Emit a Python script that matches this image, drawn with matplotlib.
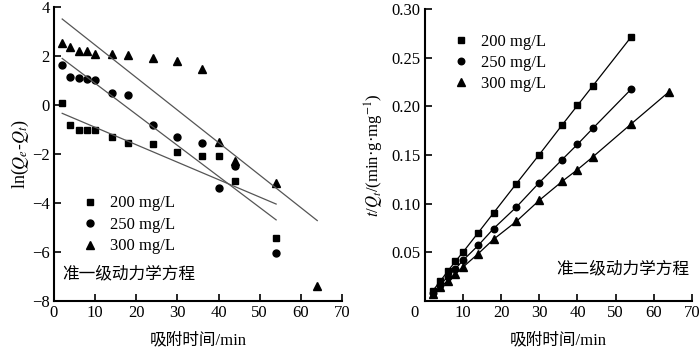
import numpy as np
import matplotlib
matplotlib.use("Agg")
import matplotlib.pyplot as plt
import matplotlib.transforms as mtrans

plt.rcParams['font.family'] = ['Liberation Serif', 'Noto Sans CJK SC', 'DejaVu Sans']
plt.rcParams['mathtext.fontset'] = 'stix'

# adsorption time (min)
t = np.array([2, 4, 6, 8, 10, 14, 18, 24, 30, 36, 40, 44, 54, 64])
labels = ['200 mg/L', '250 mg/L', '300 mg/L']

# pseudo-first-order: ln(Qe-Qt)
ln_200 = [0.09, -0.82, -1.02, -1.02, -1.02, -1.29, -1.56, -1.6, -1.9, -2.1, -2.1, -3.1, -5.42]
ln_250 = [1.63, 1.16, 1.12, 1.05, 1.02, 0.48, 0.41, -0.82, -1.32, -1.54, -3.4, -2.48, -6.03]
ln_300 = [2.52, 2.38, 2.2, 2.2, 2.1, 2.07, 2.04, 1.93, 1.81, 1.46, -1.5, -2.3, -3.2, -7.37]
# fitted lines (slope, intercept, x range)
fit1 = [(-0.0712, -0.198, 2, 54), (-0.1267, 2.153, 2, 54), (-0.1327, 3.775, 2, 64)]

# pseudo-second-order: t/Qt
tq_200 = [0.0102, 0.0202, 0.0308, 0.0407, 0.0503, 0.0703, 0.0905, 0.1207, 0.1505, 0.181, 0.201, 0.221, 0.271]
tq_250 = [0.0085, 0.0165, 0.025, 0.033, 0.0418, 0.0572, 0.0744, 0.0966, 0.1217, 0.1454, 0.161, 0.1773, 0.2174]
tq_300 = [0.007, 0.014, 0.021, 0.028, 0.0349, 0.0487, 0.0634, 0.0819, 0.1035, 0.123, 0.135, 0.148, 0.1817, 0.215]

markers = ['s', 'o', '^']
msizes = [4.5, 5, 5.5]

fig = plt.figure(figsize=(7, 3.5), dpi=100)
ax1 = fig.add_axes([0.0771, 0.14, 0.4114, 0.84])
ax2 = fig.add_axes([0.607, 0.14, 0.3814, 0.834])

# left panel
for i, ys in enumerate([ln_200, ln_250, ln_300]):
    ax1.plot(t[:len(ys)], ys, linestyle='none', marker=markers[i], ms=msizes[i],
             color='black', label=labels[i])
for k, b, x0, x1 in fit1:
    xs = np.array([x0, x1])
    ax1.plot(xs, k * xs + b, color='#555555', lw=0.9)

ax1.set_xlim(0, 70)
ax1.set_ylim(-8, 4)
ax1.set_xticks(range(0, 71, 10))
ax1.set_yticks(range(-8, 5, 2))
ax1.set_ylabel(r'ln($Q_e$-$Q_t$)', fontsize=13, labelpad=1)
ax1.set_xlabel('吸附时间/min', fontsize=12, labelpad=8)
ax1.legend(loc='upper left', bbox_to_anchor=(0.04, 0.41), frameon=False,
           fontsize=12, handletextpad=0.6, labelspacing=0.33, handlelength=1.2)
ax1.text(0.03, 0.09, '准一级动力学方程', transform=ax1.transAxes, fontsize=12,
         va='center', ha='left')

# right panel: line through the points, markers carry the legend
for i, ys in enumerate([tq_200, tq_250, tq_300]):
    ax2.plot(t[:len(ys)], ys, linestyle='-', lw=0.9, color='black')
    ax2.plot(t[:len(ys)], ys, linestyle='none', marker=markers[i], ms=msizes[i] - 0.3,
             color='black', label=labels[i])

ax2.set_xlim(0, 70)
ax2.set_ylim(0, 0.30)
ax2.set_xticks(range(0, 71, 10))
ax2.set_yticks([0.05, 0.10, 0.15, 0.20, 0.25, 0.30])
ax2.set_yticklabels(['0.05', '0.10', '0.15', '0.20', '0.25', '0.30'])
ax2.set_ylabel(r'$t$/$Q_t$/(min·g·mg$^{-1}$)', fontsize=12, labelpad=4)
ax2.set_xlabel('吸附时间/min', fontsize=12, labelpad=8)
ax2.legend(loc='upper left', bbox_to_anchor=(0.04, 0.965), frameon=False,
           fontsize=12, handletextpad=0.6, labelspacing=0.3, handlelength=1.2)
ax2.text(0.99, 0.11, '准二级动力学方程', transform=ax2.transAxes, fontsize=12,
         va='center', ha='right')

for ax in (ax1, ax2):
    for s in ('top', 'right'):
        ax.spines[s].set_visible(False)
    for s in ('left', 'bottom'):
        ax.spines[s].set_linewidth(1.5)
    ax.tick_params(direction='in', length=5, width=1.2, labelsize=12, pad=3)

# shift the "0" on the right x axis away from the spine
lbl = ax2.get_xticklabels()[0]
lbl.set_transform(lbl.get_transform() + mtrans.ScaledTranslation(-0.1, 0, fig.dpi_scale_trans))

fig.savefig('out.png', dpi=100)
